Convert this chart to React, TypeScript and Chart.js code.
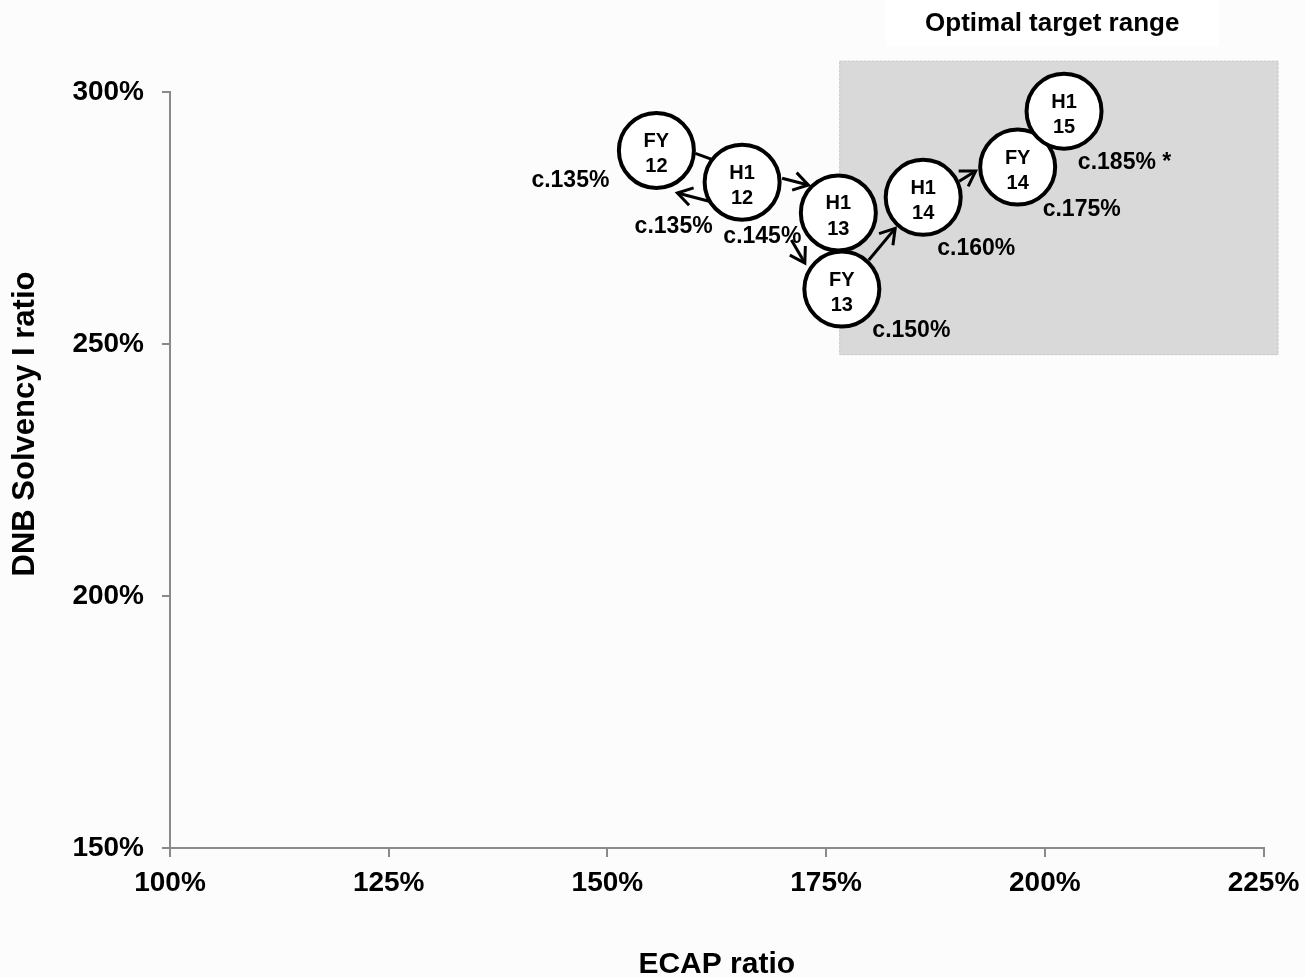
import { useEffect, useRef } from 'react';
import { Chart, registerables } from 'chart.js';

Chart.register(...registerables);

// Reporting periods (two-line bubble captions)
const PERIOD_KIND = ['FY', 'H1', 'H1', 'FY', 'H1', 'FY', 'H1'];
const PERIOD_YEAR = ['12', '12', '13', '13', '14', '14', '15'];

// ECAP ratio (x) and DNB Solvency I ratio (y), in percent
const ECAP_RATIO = [155.6, 165.4, 176.4, 176.8, 186.1, 196.9, 202.2];
const DNB_RATIO = [288.4, 282.1, 276.0, 260.9, 279.1, 285.1, 296.2];

// Estimated ratio printed next to each bubble
const ESTIMATE_LABELS = ['c.135%', 'c.135%', 'c.145%', 'c.150%', 'c.160%', 'c.175%', 'c.185% *'];

const X_TICKS = [100, 125, 150, 175, 200, 225];
const Y_TICKS = [150, 200, 250, 300];

// Shaded optimal target band
const TARGET_ECAP = [176.5, 226.7];
const TARGET_DNB = [247.8, 306.2];
const TARGET_TITLE = 'Optimal target range';
const TARGET_TITLE_ECAP = [181.8, 219.9];

const X_TITLE = 'ECAP ratio';
const Y_TITLE = 'DNB Solvency I ratio';

const FONT = "'Liberation Sans', Arial, Helvetica, sans-serif";

// Placement of the estimate labels relative to each bubble centre (px, label centre x / baseline y)
const LABEL_OFFSET: [number, number][] = [
  [-86, 37],
  [-68.5, 51],
  [-76, 30],
  [69.5, 48],
  [53, 57.5],
  [64, 49],
  [60.5, 58],
];

// Connectors between bubbles: tail offset from source centre, tip offset from target centre (px)
const ARROWS = [
  { from: 0, to: 1, tail: [39, 3], tip: [-31, -23], head: false },
  { from: 1, to: 0, tail: [-33, 19], tip: [21, 42.5], head: true },
  { from: 1, to: 2, tail: [40, -4], tip: [-30, -28], head: true },
  { from: 2, to: 3, tail: [-47, 27], tip: [-37, -26], head: true },
  { from: 3, to: 4, tail: [27, -29], tip: [-28, 31], head: true },
  { from: 4, to: 5, tail: [36, -16], tip: [-42, 4], head: true },
];

export default function App() {
  const canvasRef = useRef<HTMLCanvasElement>(null);

  useEffect(() => {
    document.body.style.margin = '0';
    const canvas = canvasRef.current;
    if (!canvas) return;

    const overlay = {
      id: 'bubbleOverlay',
      beforeDatasetsDraw(chart: any) {
        const { ctx } = chart;
        const x = chart.scales.x;
        const y = chart.scales.y;
        ctx.save();

        // target band
        const l = x.getPixelForValue(TARGET_ECAP[0]);
        const r = x.getPixelForValue(TARGET_ECAP[1]);
        const t = y.getPixelForValue(TARGET_DNB[1]);
        const b = y.getPixelForValue(TARGET_DNB[0]);
        ctx.fillStyle = '#d9d9d9';
        ctx.fillRect(l, t, r - l, b - t);
        ctx.strokeStyle = '#c6c6c6';
        ctx.lineWidth = 1;
        ctx.setLineDash([2, 2]);
        ctx.strokeRect(l + 0.5, t + 0.5, r - l - 1, b - t - 1);
        ctx.setLineDash([]);

        // connectors
        ctx.strokeStyle = '#000';
        ctx.lineWidth = 3;
        ctx.lineCap = 'butt';
        ctx.lineJoin = 'miter';
        for (const a of ARROWS) {
          const sx = x.getPixelForValue(ECAP_RATIO[a.from]) + a.tail[0];
          const sy = y.getPixelForValue(DNB_RATIO[a.from]) + a.tail[1];
          const ex = x.getPixelForValue(ECAP_RATIO[a.to]) + a.tip[0];
          const ey = y.getPixelForValue(DNB_RATIO[a.to]) + a.tip[1];
          ctx.beginPath();
          ctx.moveTo(sx, sy);
          ctx.lineTo(ex, ey);
          ctx.stroke();
          if (a.head) {
            const ang = Math.atan2(ey - sy, ex - sx);
            const len = 17;
            const spread = (32 * Math.PI) / 180;
            ctx.beginPath();
            ctx.moveTo(ex - len * Math.cos(ang - spread), ey - len * Math.sin(ang - spread));
            ctx.lineTo(ex, ey);
            ctx.lineTo(ex - len * Math.cos(ang + spread), ey - len * Math.sin(ang + spread));
            ctx.stroke();
          }
        }
        ctx.restore();
      },
      afterDatasetsDraw(chart: any) {
        const { ctx } = chart;
        const x = chart.scales.x;
        const y = chart.scales.y;
        ctx.save();
        ctx.fillStyle = '#000';
        ctx.textAlign = 'center';
        ctx.textBaseline = 'alphabetic';
        for (let i = 0; i < ECAP_RATIO.length; i++) {
          const cx = x.getPixelForValue(ECAP_RATIO[i]);
          const cy = y.getPixelForValue(DNB_RATIO[i]);
          ctx.font = `bold 20px ${FONT}`;
          ctx.fillText(PERIOD_KIND[i], cx, cy - 3.5);
          ctx.fillText(PERIOD_YEAR[i], cx, cy + 22);
          ctx.font = `bold 23px ${FONT}`;
          ctx.fillText(ESTIMATE_LABELS[i], cx + LABEL_OFFSET[i][0], cy + LABEL_OFFSET[i][1]);
        }
        ctx.restore();
      },
      afterDraw(chart: any) {
        const { ctx, chartArea } = chart;
        const x = chart.scales.x;
        ctx.save();

        // caption box for the target band
        const bl = x.getPixelForValue(TARGET_TITLE_ECAP[0]);
        const br = x.getPixelForValue(TARGET_TITLE_ECAP[1]);
        ctx.fillStyle = '#ffffff';
        ctx.fillRect(bl, 0, br - bl, 46);
        ctx.fillStyle = '#000';
        ctx.font = `bold 26px ${FONT}`;
        ctx.textAlign = 'center';
        ctx.textBaseline = 'alphabetic';
        ctx.fillText(TARGET_TITLE, (bl + br) / 2, 31);

        // axis titles
        ctx.font = `bold 30px ${FONT}`;
        ctx.fillText(X_TITLE, (chartArea.left + chartArea.right) / 2, 973);
        ctx.font = `bold 31px ${FONT}`;
        ctx.translate(34, chartArea.bottom / 2);
        ctx.rotate(-Math.PI / 2);
        ctx.fillText(Y_TITLE, 0, 0);
        ctx.restore();
      },
    };

    const tickFont = { family: FONT, size: 28, weight: 'bold' as const };

    const chart = new Chart(canvas, {
      type: 'scatter',
      data: {
        datasets: [
          {
            data: ECAP_RATIO.map((v, i) => ({ x: v, y: DNB_RATIO[i] })),
            pointRadius: 37.5,
            pointHoverRadius: 37.5,
            pointBorderWidth: 4,
            pointHoverBorderWidth: 4,
            pointBackgroundColor: '#ffffff',
            pointBorderColor: '#000000',
            showLine: false,
            clip: false as any,
          },
        ],
      },
      options: {
        responsive: false,
        animation: false,
        events: [],
        layout: { padding: { top: 92, right: 37, left: 0, bottom: 0 } },
        plugins: {
          legend: { display: false },
          tooltip: { enabled: false },
          title: { display: false },
        },
        scales: {
          x: {
            type: 'linear',
            position: 'bottom',
            min: 100,
            max: 225,
            afterBuildTicks: (s: any) => {
              s.ticks = X_TICKS.map((v) => ({ value: v }));
            },
            afterFit: (s: any) => {
              s.height = 129;
              s.paddingLeft = 0;
              s.paddingRight = 0;
            },
            ticks: {
              callback: (v: any) => `${v}%`,
              font: tickFont,
              color: '#000',
              padding: 9,
              maxRotation: 0,
              autoSkip: false,
            },
            grid: { drawOnChartArea: false, drawTicks: true, tickLength: 9, color: '#8a8a8a', lineWidth: 2 },
            border: { display: true, color: '#8a8a8a', width: 2 },
          },
          y: {
            type: 'linear',
            position: 'left',
            min: 150,
            max: 300,
            afterBuildTicks: (s: any) => {
              s.ticks = Y_TICKS.map((v) => ({ value: v }));
            },
            afterFit: (s: any) => {
              s.width = 170;
              s.paddingTop = 0;
              s.paddingBottom = 0;
            },
            ticks: {
              callback: (v: any) => `${v}%`,
              font: tickFont,
              color: '#000',
              padding: 18,
              autoSkip: false,
            },
            grid: { drawOnChartArea: false, drawTicks: true, tickLength: 8, color: '#8a8a8a', lineWidth: 2 },
            border: { display: true, color: '#8a8a8a', width: 2 },
          },
        },
      },
      plugins: [overlay],
    });

    return () => chart.destroy();
  }, []);

  return (
    <div style={{ width: 1305, height: 977, background: '#fcfcfc' }}>
      <canvas ref={canvasRef} width={1305} height={977} style={{ display: 'block' }} />
    </div>
  );
}
